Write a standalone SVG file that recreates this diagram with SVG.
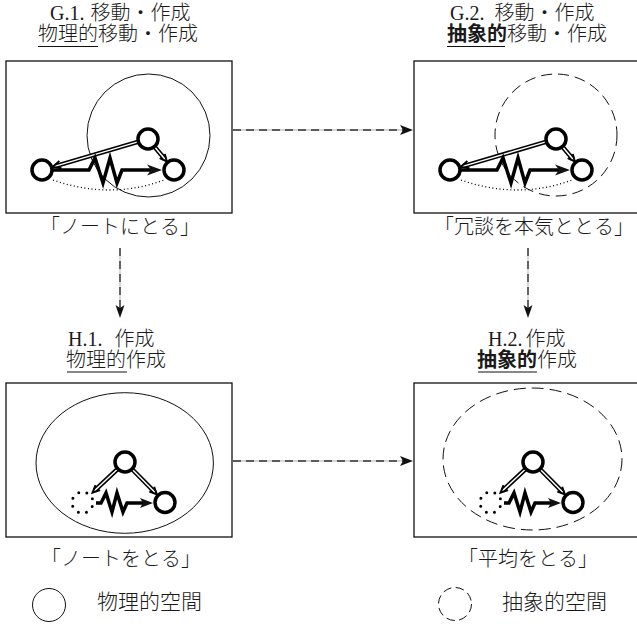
<svg xmlns="http://www.w3.org/2000/svg" xmlns:xlink="http://www.w3.org/1999/xlink" width="637" height="624" viewBox="0 0 637 624">
<style>
text { font-family: "Liberation Serif", "Noto Sans CJK JP", serif; font-size: 20px; fill: #1a1a1a; font-weight: 300; }
.cap { text-anchor: middle; }
.leg { font-size: 21px; }
.b { font-weight: 700; }
.box { fill: none; stroke: #111; stroke-width: 1.3; }
.space { fill: none; stroke: #111; stroke-width: 1; }
.dsh { stroke-dasharray: 11 6; }
.ul { stroke: #111; stroke-width: 1; }
.node { fill: #fff; stroke: #000; stroke-width: 3.5; }
.dnode { fill: none; stroke: #000; stroke-width: 3; stroke-linecap: round; stroke-dasharray: 0 8.25; stroke-dashoffset: -4.1; }
.dblo { fill: none; stroke: #000; stroke-width: 4.6; }
.dbli { fill: none; stroke: #fff; stroke-width: 1.5; }
.chev { fill: none; stroke: #000; stroke-width: 1.9; stroke-linejoin: miter; }
.zig { fill: none; stroke: #000; stroke-width: 3.5; stroke-linejoin: miter; }
.dots { fill: none; stroke: #000; stroke-width: 1.3; stroke-dasharray: 1 2.6; }
.cbase { stroke: #c8c8c8; stroke-width: 1.4; fill: none; }
.cdash { stroke: #333; stroke-width: 1.4; stroke-dasharray: 8 5; fill: none; }
.head { fill: #111; }
</style>
<defs>
  <g id="gGraph">
    <path class="dots" d="M53,180 Q110,200 164,180"/>
    <path class="dblo" d="M137.9,141.9 L55.5,166.1"/>
    <path class="dbli" d="M137.9,141.9 L55.5,166.1"/>
    <path class="chev" d="M61.5,168.3 L52.6,166.9 L59.4,161.0"/>
    <path class="dblo" d="M154.7,147 L165,159.3"/>
    <path class="dbli" d="M154.7,147 L165,159.3"/>
    <path class="chev" d="M164.8,153.9 L166.9,161.6 L159.7,158.2"/>
    <path class="zig" d="M48,170 L89,170 L95,158 L103,183 L110,158 L117,183 L122,170 L152,170"/>
    <polygon class="head" points="162,170 147,164.5 151,170 147,175.5"/>
    <circle class="node" cx="42" cy="170" r="10"/>
    <circle class="node" cx="148" cy="139" r="10"/>
    <circle class="node" cx="174" cy="170" r="10"/>
  </g>
  <g id="hGraph">
    <path class="dblo" d="M117.4,469.2 L94.7,490.5"/>
    <path class="dbli" d="M117.4,469.2 L94.7,490.5"/>
    <path class="chev" d="M100.1,490.1 L92.5,492.6 L95.5,485.2"/>
    <path class="dblo" d="M132.4,469.5 L154.8,492.2"/>
    <path class="dbli" d="M132.4,469.5 L154.8,492.2"/>
    <path class="chev" d="M154.2,486.8 L156.9,494.3 L149.4,491.5"/>
    <path class="zig" d="M96,503 L101,503 L106,493 L112,512 L117,493 L123,512 L127,503 L143,503"/>
    <polygon class="head" points="153,503 140,498 143,503 140,508"/>
    <circle class="dnode" cx="82.5" cy="502.5" r="10.5"/>
    <circle class="node" cx="125" cy="462" r="10"/>
    <circle class="node" cx="165" cy="502.5" r="10"/>
  </g>
</defs>

<g id="connectors">
  <line class="cbase" x1="233" y1="130" x2="403" y2="130"/>
  <line class="cdash" x1="233" y1="130" x2="403" y2="130"/>
  <polygon class="head" points="413,130 400,125 403,130 400,135"/>
  <line class="cbase" x1="233" y1="461" x2="403" y2="461"/>
  <line class="cdash" x1="233" y1="461" x2="403" y2="461"/>
  <polygon class="head" points="413,461 400,456 403,461 400,466"/>
  <line class="cbase" x1="120" y1="248" x2="120" y2="308"/>
  <line class="cdash" x1="120" y1="248" x2="120" y2="308"/>
  <polygon class="head" points="120,318 115.5,305 120,308 124.5,305"/>
  <line class="cbase" x1="528" y1="248" x2="528" y2="308"/>
  <line class="cdash" x1="528" y1="248" x2="528" y2="308"/>
  <polygon class="head" points="528,318 523.5,305 528,308 532.5,305"/>
</g>

<g id="G1">
  <text x="50" y="20">G.1.<tspan dx="6">移動・作成</tspan></text>
  <text x="38" y="41">物理的移動・作成</text>
  <line class="ul" x1="38" y1="46.5" x2="98" y2="46.5"/>
  <rect class="box" x="6" y="61" width="226" height="152"/>
  <circle class="space" cx="148.5" cy="135.5" r="61.5"/>
  <use xlink:href="#gGraph"/>
  <text class="cap" x="120" y="234">「ノートにとる」</text>
</g>

<g id="G2">
  <text x="450" y="20">G.2.<tspan dx="10">移動・作成</tspan></text>
  <text x="447" y="41"><tspan class="b">抽象的</tspan>移動・作成</text>
  <line class="ul" x1="447" y1="46.5" x2="505" y2="46.5"/>
  <rect class="box" x="414" y="61" width="226" height="152"/>
  <circle class="space dsh" cx="556" cy="135" r="61"/>
  <use xlink:href="#gGraph" transform="translate(408,0)"/>
  <text class="cap" x="534" y="234">「冗談を本気ととる」</text>
</g>

<g id="H1">
  <text x="68" y="346">H.1.<tspan dx="12">作成</tspan></text>
  <text x="66" y="367">物理的作成</text>
  <line class="ul" x1="67" y1="372" x2="127" y2="372"/>
  <rect class="box" x="6" y="383" width="226" height="154"/>
  <ellipse class="space" cx="124.7" cy="463" rx="88.7" ry="70.3"/>
  <use xlink:href="#hGraph"/>
  <text class="cap" x="121" y="566">「ノートをとる」</text>
</g>

<g id="H2">
  <text x="488" y="346">H.2.<tspan dx="3">作成</tspan></text>
  <text x="477" y="367"><tspan class="b">抽象的</tspan>作成</text>
  <line class="ul" x1="478" y1="372" x2="537" y2="372"/>
  <rect class="box" x="414" y="383" width="226" height="154"/>
  <ellipse class="space" cx="532.5" cy="459" rx="89.5" ry="71" style="stroke-dasharray:12 6"/>
  <use xlink:href="#hGraph" transform="translate(408,0)"/>
  <text class="cap" x="528" y="566">「平均をとる」</text>
</g>

<g id="legend">
  <circle class="space" cx="49" cy="605" r="16.5"/>
  <text class="leg" x="97" y="609">物理的空間</text>
  <circle class="space" cx="455" cy="604" r="16.5" style="stroke-dasharray:8.5 4.5"/>
  <text class="leg" x="502" y="609">抽象的空間</text>
</g>
</svg>
